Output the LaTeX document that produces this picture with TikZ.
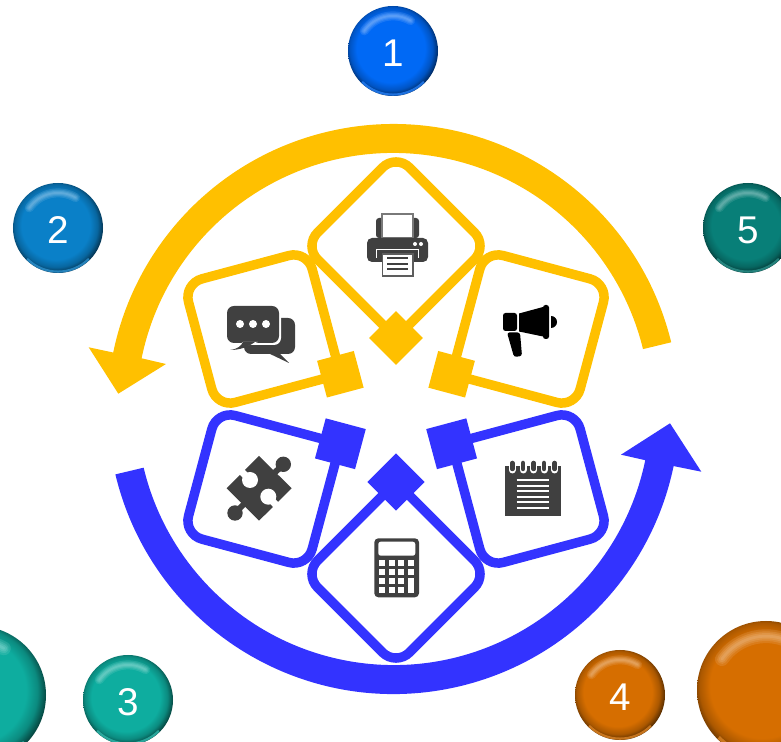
\documentclass[tikz,border=0pt]{standalone}
\usepackage{fontspec}
\setmainfont{Liberation Sans}

\definecolor{gold}{HTML}{FFC000}
\definecolor{indigo}{HTML}{3333FF}
\definecolor{icon}{HTML}{404040}
\definecolor{ballone}{HTML}{0069F5}
\definecolor{balltwo}{HTML}{0A80C8}
\definecolor{ballthree}{HTML}{0EAD9F}
\definecolor{ballfour}{HTML}{D66E00}
\definecolor{ballfive}{HTML}{087F78}

\pgfdeclareradialshading[btncol]{btnbevel}{\pgfpoint{-2bp}{2.5bp}}{%
  color(0bp)=(btncol); color(19bp)=(btncol); color(23bp)=(btncol!80!black);
  color(27bp)=(btncol!30!black); color(28.5bp)=(btncol!55!black); color(50bp)=(btncol!55!black)}

\tikzset{
  card/.style={draw=#1, line width=0.19cm, rectangle, rounded corners=0.38cm,
    minimum size=2.56cm, inner sep=0pt, outer sep=0pt},
  tab/.style={fill=#1, rectangle, minimum size=0.76cm, inner sep=0pt, outer sep=0pt},
  ball/.style={circle, inner sep=0pt, shade, shading=btnbevel, text=white,
    text height=17.5pt, text depth=0pt, font=\fontsize{22}{24}\selectfont}
}

% name, x, y, radius, colour, label
\newcommand{\glossball}[6]{
  \colorlet{btncol}{#5}
  \pgfmathsetmacro{\rr}{0.78*#4}
  \pgfmathsetmacro{\rw}{#4*0.02}
  \node[ball, minimum size=2*\rw cm] (#1) at (#2,#3) {#6};
  \foreach \w in {0.2,0.14,0.09,0.04} {
    \draw[shift={(#2,#3)}, white, opacity=0.1, line cap=round, line width=\w*\rw cm]
      (145:\rr) arc [start angle=145, end angle=60, radius=\rr];
  }
  \draw[shift={(#2,#3)}, #5!85!white, opacity=0.8, line width=0.05*\rw cm]
    (225:0.97*#4) arc [start angle=225, end angle=315, radius=0.97*#4];
}

\begin{document}
\begin{tikzpicture}[x=0.02cm, y=0.02cm]

  \clip (0,-742) rectangle (781,0);

  % the two big arrows
  \fill[gold] (671.2,-342.3) arc [start angle=13.7, end angle=168.4, radius=286]
    -- (88.7,-347.3) -- (118.3,-393.7) -- (166,-364) -- (141.6,-358.3)
    arc [start angle=168.4, end angle=13.7, radius=257] -- cycle;
  \fill[indigo] (115.4,-474.4) arc [start angle=193.42, end angle=348.29, radius=286]
    -- (701.3,-471.7) -- (670,-423.3) -- (621,-454.7) -- (645.25,-460.2)
    arc [start angle=348.29, end angle=193.42, radius=257] -- cycle;

  % yellow half
  \node[card=gold, rotate=15] (chat) at (262,-329) {};
  \node[card=gold, rotate=-15] (horn) at (530,-329) {};
  \node[card=gold, rotate=45, minimum size=2.6cm] (printer) at (396,-246) {};
  \node[tab=gold, rotate=15] (chattab) at (chat.south east) {};
  \node[tab=gold, rotate=-15] (horntab) at (horn.south west) {};
  \node[tab=gold, rotate=45] (printertab) at (printer.south west) {};

  % blue half
  \node[card=indigo, rotate=-15] (puzzle) at (262,-489) {};
  \node[card=indigo, rotate=15] (notes) at (530,-489) {};
  \node[card=indigo, rotate=45, minimum size=2.6cm] (calc) at (396,-574) {};
  \node[tab=indigo, rotate=-15, minimum size=0.83cm] (puzzletab) at (puzzle.north east) {};
  \node[tab=indigo, rotate=15, minimum size=0.83cm] (notestab) at (notes.north west) {};
  \node[tab=indigo, rotate=45, minimum size=0.81cm] (calctab) at (calc.north east) {};

  % printer
  \fill[icon, rounded corners=0.06cm] (376,-238) rectangle (419,-218);
  \draw[icon!70!white, fill=white, line width=0.03cm] (382,-238) rectangle (413,-214);
  \fill[icon, rounded corners=0.1cm] (367,-262) rectangle (428,-238);
  \draw[white, line width=0.03cm] (376.5,-258) -- (376.5,-249.5) -- (418.5,-249.5) -- (418.5,-258);
  \fill[white] (415,-244) circle [radius=2] (421,-244) circle [radius=2];
  \draw[icon!85!white, fill=white, line width=0.03cm] (382.5,-254) rectangle (413,-276);
  \draw[icon, line width=0.04cm] (387,-258) -- (408,-258) (387,-264) -- (408,-264) (387,-269) -- (408,-269);

  % chat bubbles
  \fill[icon, rounded corners=0.14cm] (244,-354) rectangle (295,-318);
  \fill[icon] (268,-353) -- (289,-363) -- (279,-353) -- cycle;
  \fill[white, rounded corners=0.14cm] (226,-345) rectangle (281,-305);
  \fill[icon, rounded corners=0.14cm] (227,-343) rectangle (279,-306);
  \fill[white] (229,-352) -- (243,-342) -- (258,-342) -- cycle;
  \fill[icon] (230,-350) .. controls (238,-349) and (241,-346) .. (243,-342) -- (255,-342)
    .. controls (248,-347) and (240,-350) .. (230,-350);
  \fill[white] (240,-324) circle [radius=4] (253,-324) circle [radius=4] (266,-324) circle [radius=4];

  % megaphone
  \fill[black, rounded corners=0.05cm] (503,-331) rectangle (517,-313);
  \fill[black] (519,-313.5) -- (543,-307) -- (543,-336.5) -- (519,-331.5) -- cycle;
  \fill[black, rounded corners=0.05cm] (543,-339) rectangle (549,-305);
  \fill[black] (551,-316) arc [start angle=90, end angle=-90, radius=6] -- cycle;
  \fill[black, rounded corners=0.05cm] (507,-332.5) -- (520,-332.5) -- (522,-356) -- (514,-357) -- cycle;

  % puzzle piece
  \fill[icon] (259,-456) -- (291.7,-488.3) -- (259,-520.7) -- (226.7,-488.3) -- cycle;
  \fill[icon] (283.3,-464.3) circle [radius=7.7] (235,-513) circle [radius=7.7];
  \draw[icon, line width=0.12cm] (272,-475) -- (283,-465) (246,-502) -- (235,-513);
  \fill[white] (250,-480) circle [radius=8] (268.3,-496.7) circle [radius=8];
  \draw[white, line width=0.14cm] (250,-480) -- (241,-471) (268.3,-496.7) -- (277,-506);

  % calculator
  \fill[icon, rounded corners=0.08cm] (374.3,-597.3) rectangle (419,-538.3);
  \fill[white, rounded corners=0.05cm] (378.3,-555.7) rectangle (415.3,-541.7);
  \foreach \cx in {379,388.7,398.3,408} {
    \foreach \cy in {560,569.3,578,587} {
      \fill[white] (\cx,-\cy) rectangle +(6,-5.7);
    }
  }
  \fill[white] (408,-578) rectangle (414,-592.7);

  % notepad
  \fill[icon] (505.3,-466) rectangle (560.7,-516);
  \foreach \nx in {512.3,523,533.7,544,554.7} {
    \draw[white, line width=0.14cm, line cap=round] (\nx,-464) -- (\nx,-470);
    \draw[icon, line width=0.09cm, line cap=round] (\nx,-463) -- (\nx,-469);
  }
  \foreach \ny in {480,485.7,491,496.7,502.3,508} {
    \draw[white, line width=0.04cm] (516.7,-\ny) -- (549.3,-\ny);
  }

  % numbered balls
  \glossball{ballA}{393}{-51}{45}{ballone}{1}
  \glossball{ballB}{58}{-228}{45}{balltwo}{2}
  \glossball{ballC}{128}{-700}{45}{ballthree}{3}
  \glossball{ballD}{620}{-695}{45}{ballfour}{4}
  \glossball{ballE}{748}{-228}{45}{ballfive}{5}
  \glossball{ballCbig}{-23}{-695}{69}{ballthree}{}
  \glossball{ballDbig}{766}{-690}{69}{ballfour}{}

\end{tikzpicture}
\end{document}
